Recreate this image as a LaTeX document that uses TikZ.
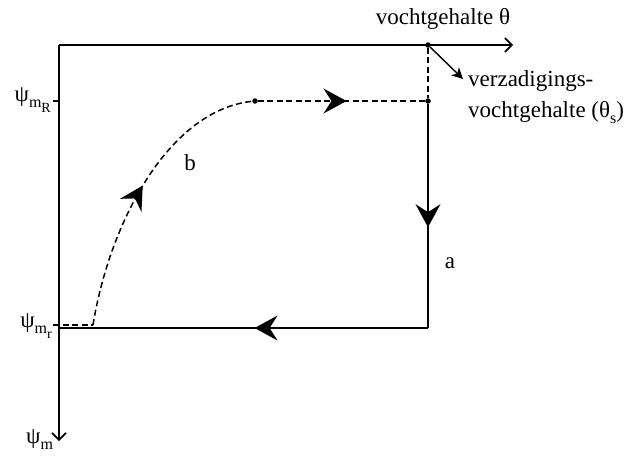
\documentclass[tikz,border=0pt]{standalone}
\usepackage{fontspec}
\setmainfont{Liberation Serif}
\usetikzlibrary{arrows.meta,decorations.markings}
\newcommand\mysub[1]{\raisebox{-0.28em}{\fontsize{16}{16}\selectfont #1}}
\newcommand\mysubsub[1]{\raisebox{-0.3em}{\fontsize{14}{14}\selectfont #1}}
\tikzset{
  ln/.style={line width=1.6pt},
  dsh/.style={line width=1.5pt, dash pattern=on 6pt off 3.5pt},
  axarrow/.style={-{Straight Barb[length=7pt,width=14pt,line width=1.6pt]}},
  ptrarrow/.style={-{Stealth[length=11pt,width=11pt,inset=3pt]}},
  midarrow/.style={postaction={decorate},decoration={markings,
      mark=at position #1 with {\arrow{Stealth[length=23pt,width=25pt,inset=8pt]}}}},
  lbl/.style={font=\fontsize{23}{31}\selectfont, inner sep=0pt},
  dot/.style={circle, fill, inner sep=0pt, minimum size=5.5pt}
}
\begin{document}
\begin{tikzpicture}[x=1pt,y=-1pt]
\useasboundingbox (0,0) rectangle (635,461);
% coordinates
\coordinate (O) at (59,45);
\coordinate (xend) at (513,45);
\coordinate (yend) at (59,441);
\node[dot] (ts) at (428,45) {};
\node[dot] (c1) at (428,101) {};
\node[dot] (c2) at (255,101) {};
\coordinate (c3) at (428,328);
\coordinate (c4) at (59,328);
\coordinate (tR) at (53,101);
\coordinate (tr) at (53,325);
\coordinate (cs) at (93,325);
\coordinate (diag) at (463,79);
% axes
\draw[ln,axarrow] (O) -- (xend);
\draw[ln,axarrow] (O) -- (yend);
\draw[ln] (tR) -- (59,101);
% dashed vertical at theta_s
\draw[dsh] (ts) -- (c1);
% path a
\draw[ln,midarrow=0.55] (c1) -- (c3);
\draw[ln,midarrow=0.47] (c3) -- (c4);
% path b
\draw[dsh] (tr) -- (cs);
\draw[dsh,midarrow=0.51] (cs) .. controls (110,220) and (170,110) .. (c2);
\draw[dsh,midarrow=0.53] (c2) -- (c1);
% pointer
\draw[line width=1.4pt,ptrarrow] (ts) -- (diag);
% labels
\node[lbl, anchor=base] (lt) at (443,24) {vochtgehalte θ};
\node[lbl, anchor=north west, align=left] (lv) at (468,70) {verzadigings-\\vochtgehalte (θ\mysub{s})};
\node[lbl, anchor=base] (lb) at (190,170) {b};
\node[lbl, anchor=base] (la) at (450,268) {a};
\node[lbl, anchor=base east] (lR) at (51,101) {ψ\mysub{m\mysubsub{R}}};
\node[lbl, anchor=base east] (lr) at (52,327) {ψ\mysub{m\mysubsub{r}}};
\node[lbl, anchor=base west] (lm) at (26,443) {ψ\mysub{m}};
\end{tikzpicture}
\end{document}
